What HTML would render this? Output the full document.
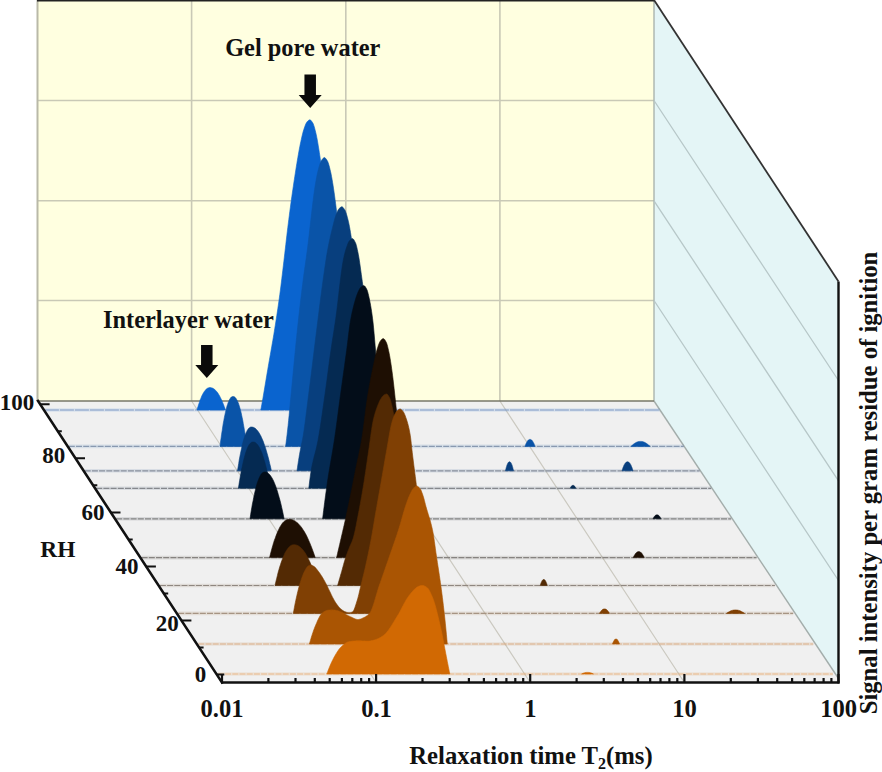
<!DOCTYPE html>
<html lang="en"><head><meta charset="utf-8"><title>NMR T2 relaxation waterfall</title>
<style>html,body{margin:0;padding:0;background:#fff}svg{display:block}text{font-family:"Liberation Serif","DejaVu Serif",serif;font-weight:bold;fill:#111}</style></head><body>
<svg width="882" height="772" viewBox="0 0 882 772">
<rect width="882" height="772" fill="#fff"/>
<rect x="37.5" y="0.0" width="616.5" height="401.0" fill="#ffffe0"/>
<polygon points="654.0,0.0 838.5,281.5 838.5,682.5 654.0,401.0" fill="#e4f5f6"/>
<polygon points="37.5,401.0 654.0,401.0 838.5,678.5 838.5,682.5 222.0,682.5" fill="#f0f0f0"/>
<path d="M191.6,0.0V401.0M345.8,0.0V401.0M499.9,0.0V401.0M37.5,100.5H654.0M37.5,200.8H654.0M37.5,300.5H654.0" stroke="#c9c9b6" stroke-width="1.6" fill="none"/>
<path d="M37.5,0.0V401.0" stroke="#b9b9a8" stroke-width="2" fill="none"/>
<path d="M654.0,0.0V401.0" stroke="#aab4ae" stroke-width="1.4" fill="none"/>
<path d="M654.0,100.5L838.5,380.5M654.0,200.8L838.5,480.8M654.0,300.5L838.5,580.5" stroke="#b7c7c8" stroke-width="1.3" fill="none"/>
<path d="M191.6,401.0L376.1,682.5M345.8,401.0L530.2,682.5M499.9,401.0L684.4,682.5" stroke="#cbc9c0" stroke-width="1.2" fill="none"/>
<path d="M654.0,401.0L838.5,678.5" stroke="#a3adab" stroke-width="1.4" fill="none"/>
<path d="M37.5,401.0H654.0" stroke="#77776a" stroke-width="1.6" fill="none"/>
<path d="M37.0,0.5H654.0" stroke="#222" stroke-width="1.8" fill="none"/>
<path d="M654.0,0.0L838.5,281.5" stroke="#333" stroke-width="1.8" fill="none"/>
<path d="M44.9,410H659.9" stroke="#0a64cf" stroke-opacity="0.10" stroke-width="3.6" fill="none"/>
<path d="M44.9,410H659.9" stroke="#7f9ac3" stroke-width="1.2" stroke-dasharray="14 1" fill="none"/>
<path d="M197,410 197.5,408.1 198.1,406.3 198.6,404.5 199.2,402.9 199.7,401.3 200.2,399.8 200.8,398.5 201.3,397.2 201.8,395.9 202.4,394.8 202.9,393.8 203.5,392.8 204,392 204.5,391.2 205.1,390.5 205.6,389.8 206.1,389.3 206.7,388.8 207.2,388.4 207.8,388.1 208.3,387.9 208.8,387.7 209.4,387.6 209.9,387.6 210.5,387.6 211.2,387.7 211.8,387.9 212.5,388.1 213.1,388.4 213.8,388.8 214.4,389.3 215.1,389.8 215.7,390.5 216.4,391.2 217,392 217.7,392.8 218.3,393.8 218.9,394.8 219.6,395.9 220.2,397.2 220.9,398.5 221.5,399.8 222.2,401.3 222.8,402.9 223.5,404.5 224.1,406.3 224.8,408.1 225.4,410ZM260.8,410 261.3,407.3 261.8,404.5 262.3,401.7 262.8,398.9 263.3,396 263.8,393 264.3,390.1 264.8,387.1 265.3,384.1 265.8,381.1 266.3,378.1 266.8,375.1 267.3,372.1 267.8,369.2 268.3,366.2 268.8,363.3 269.3,360.5 269.8,357.6 270.3,354.8 270.8,351.9 271.3,349.1 271.8,346.2 272.3,343.3 272.8,340.4 273.3,337.5 273.8,334.5 274.3,331.4 274.8,328.3 275.3,325.2 275.8,322 276.3,318.7 276.8,315.4 277.3,312.1 277.8,308.7 278.3,305.3 278.8,301.8 279.3,298.2 279.8,294.5 280.3,290.7 280.8,286.8 281.3,282.8 281.8,278.6 282.3,274.4 282.8,270.2 283.3,265.9 283.8,261.7 284.3,257.5 284.8,253.2 285.3,248.8 285.8,244.4 286.3,240.1 286.8,235.7 287.3,231.5 287.8,227.4 288.3,223.4 288.8,219.4 289.3,215.5 289.8,211.6 290.3,207.8 290.8,204 291.3,200.3 291.8,196.7 292.3,193.2 292.8,189.7 293.3,186.4 293.8,183 294.3,179.7 294.8,176.4 295.3,173.2 295.8,170 296.3,166.8 296.8,163.7 297.3,160.6 297.8,157.7 298.3,154.8 298.8,151.9 299.3,149.2 299.8,146.6 300.3,144.1 300.8,141.7 301.3,139.4 301.8,137.1 302.3,135 302.8,133 303.3,131.1 303.8,129.5 304.3,128 304.8,126.6 305.3,125.2 305.8,124 306.3,123 306.8,122.2 307.3,121.6 307.8,121.1 308.3,120.6 308.8,120.2 309.3,119.9 309.8,119.8 310.3,119.9 310.8,120.3 311.3,120.8 311.8,121.5 312.3,122.2 312.8,123 313.3,124 313.8,125.4 314.3,127 314.8,128.8 315.3,130.7 315.8,132.8 316.3,134.9 316.8,137.4 317.3,140 317.8,142.9 318.3,145.9 318.8,149 319.3,152.2 319.8,155.5 320.3,159 320.8,162.7 321.3,166.4 321.8,170.3 322.3,174.2 322.8,178.3 323.3,182.4 323.8,186.5 324.3,190.7 324.8,194.9 325.3,199.1 325.8,203.3 326.3,207.5 326.8,211.9 327.3,216.3 327.8,220.7 328.3,225.3 328.8,229.9 329.3,234.5 329.8,239.1 330.3,243.6 330.8,248.2 331.3,252.7 331.8,257.2 332.3,261.8 332.8,266.3 333.3,270.9 333.8,275.4 334.3,279.9 334.8,284.4 335.3,288.9 335.8,293.3 336.3,297.6 336.8,302 337.3,306.3 337.8,310.7 338.3,315 338.8,319.3 339.3,323.6 339.8,327.8 340.3,331.9 340.8,335.9 341.3,339.8 341.8,343.5 342.3,347.2 342.8,350.8 343.3,354.4 343.8,358 344.3,361.5 344.8,364.9 345.3,368.3 345.8,371.6 346.3,374.8 346.8,377.9 347.3,380.9 347.8,383.7 348.3,386.4 348.8,389 349.3,391.4 349.8,393.8 350.3,396.1 350.8,398.3 351.3,400.4 351.8,402.4 352.3,404.3 352.8,406.1 353.3,407.8 353.8,409.4 354,410Z" fill="#0a64cf" stroke="#0a64cf" stroke-width="0.6" stroke-linejoin="round"/>
<path d="M68.8,446.4H683.8" stroke="#0a54a8" stroke-opacity="0.10" stroke-width="3.6" fill="none"/>
<path d="M68.8,446.4H683.8" stroke="#8899b0" stroke-width="1.2" stroke-dasharray="6 1.2" fill="none"/>
<path d="M220,446.4 220.5,442.1 221.1,438 221.6,434.2 222.2,430.5 222.7,427 223.2,423.7 223.8,420.6 224.3,417.7 224.9,415 225.4,412.5 226,410.2 226.5,408.1 227,406.1 227.6,404.4 228.1,402.8 228.7,401.4 229.2,400.2 229.8,399.1 230.3,398.3 230.8,397.6 231.4,397 231.9,396.7 232.5,396.5 233,396.4 233.6,396.5 234.2,396.7 234.7,397 235.3,397.6 235.9,398.3 236.4,399.1 237,400.2 237.6,401.4 238.2,402.8 238.8,404.4 239.3,406.1 239.9,408.1 240.5,410.2 241.1,412.5 241.6,415 242.2,417.7 242.8,420.6 243.3,423.7 243.9,427 244.5,430.5 245.1,434.2 245.7,438 246.2,442.1 246.8,446.4ZM285.6,446.4 286.1,442.6 286.6,438.6 287.1,434.4 287.6,430 288.1,425.5 288.6,420.6 289.1,415.5 289.6,410.2 290.1,404.9 290.6,399.6 291.1,394.4 291.6,389.2 292.1,384 292.6,378.7 293.1,373.4 293.6,368.1 294.1,362.9 294.6,357.7 295.1,352.5 295.6,347.4 296.1,342.3 296.6,337.4 297.1,332.5 297.6,327.8 298.1,323.2 298.6,318.6 299.1,314.1 299.6,309.7 300.1,305.3 300.6,301 301.1,296.8 301.6,292.7 302.1,288.6 302.6,284.6 303.1,280.6 303.6,276.8 304.1,273.1 304.6,269.5 305.1,266 305.6,262.5 306.1,258.9 306.6,255.3 307.1,251.6 307.6,247.8 308.1,243.8 308.6,239.6 309.1,235.3 309.6,231 310.1,226.6 310.6,222.1 311.1,217.7 311.6,213.3 312.1,209 312.6,204.7 313.1,200.7 313.6,196.7 314.1,193 314.6,189.4 315.1,186.2 315.6,183.2 316.1,180.3 316.6,177.6 317.1,175.1 317.6,172.8 318.1,170.6 318.6,168.7 319.1,166.9 319.6,165.2 320.1,163.6 320.6,162.2 321.1,161.1 321.6,160.3 322.1,159.5 322.6,158.9 323.1,158.3 323.6,157.9 324.1,157.6 324.6,157.6 325.1,157.9 325.6,158.3 326.1,158.9 326.6,159.6 327.1,160.4 327.6,161.3 328.1,162.5 328.6,164 329.1,165.7 329.6,167.6 330.1,169.7 330.6,171.8 331.1,174.1 331.6,176.7 332.1,179.5 332.6,182.5 333.1,185.6 333.6,188.9 334.1,192.3 334.6,195.9 335.1,199.7 335.6,203.6 336.1,207.6 336.6,211.8 337.1,216.1 337.6,220.4 338.1,224.9 338.6,229.4 339.1,233.9 339.6,238.5 340.1,243.1 340.6,247.7 341.1,252.3 341.6,257 342.1,261.9 342.6,266.8 343.1,271.8 343.6,276.9 344.1,282 344.6,287.2 345.1,292.3 345.6,297.4 346.1,302.4 346.6,307.4 347.1,312.5 347.6,317.5 348.1,322.6 348.6,327.7 349.1,332.7 349.6,337.8 350.1,342.8 350.6,347.8 351.1,352.7 351.6,357.6 352.1,362.4 352.6,367.2 353.1,372.1 353.6,377 354.1,381.9 354.6,386.8 355.1,391.6 355.6,396.3 356.1,400.9 356.6,405.3 357.1,409.5 357.6,413.4 358.1,417.1 358.6,420.7 359.1,424.1 359.6,427.4 360.1,430.6 360.6,433.7 361.1,436.6 361.6,439.4 362.1,442 362.6,444.5 363,446.4ZM525,446.4 525.2,445.8 525.4,445.2 525.6,444.7 525.8,444.2 526,443.7 526.2,443.2 526.5,442.8 526.7,442.4 526.9,442 527.1,441.7 527.3,441.3 527.5,441 527.7,440.8 527.9,440.5 528.1,440.3 528.3,440.1 528.5,439.9 528.8,439.8 529,439.7 529.2,439.6 529.4,439.5 529.6,439.4 529.8,439.4 530,439.4 530.2,439.4 530.4,439.4 530.6,439.5 530.8,439.6 531,439.7 531.2,439.8 531.5,439.9 531.7,440.1 531.9,440.3 532.1,440.5 532.3,440.8 532.5,441 532.7,441.3 532.9,441.7 533.1,442 533.3,442.4 533.5,442.8 533.8,443.2 534,443.7 534.2,444.2 534.4,444.7 534.6,445.2 534.8,445.8 535,446.4ZM631,446.4 631.4,446 631.8,445.6 632.2,445.2 632.6,444.9 633,444.5 633.4,444.2 633.8,443.9 634.2,443.6 634.6,443.4 635,443.1 635.4,442.9 635.8,442.6 636.1,442.5 636.5,442.3 636.9,442.1 637.3,442 637.7,441.8 638.1,441.7 638.5,441.6 638.9,441.5 639.3,441.5 639.7,441.4 640.1,441.4 640.5,441.4 640.9,441.4 641.3,441.4 641.7,441.5 642.1,441.5 642.5,441.6 642.9,441.7 643.3,441.8 643.7,442 644.1,442.1 644.5,442.3 644.9,442.5 645.2,442.6 645.6,442.9 646,443.1 646.4,443.4 646.8,443.6 647.2,443.9 647.6,444.2 648,444.5 648.4,444.9 648.8,445.2 649.2,445.6 649.6,446 650,446.4Z" fill="#0a54a8" stroke="#0a54a8" stroke-width="0.6" stroke-linejoin="round"/>
<path d="M84.7,470.8H699.7" stroke="#083f7e" stroke-opacity="0.10" stroke-width="3.6" fill="none"/>
<path d="M84.7,470.8H699.7" stroke="#868e9b" stroke-width="1.2" stroke-dasharray="6 1.2" fill="none"/>
<path d="M237.5,470.8 238.1,467.1 238.7,463.5 239.2,460.1 239.8,456.9 240.4,453.8 241,450.9 241.6,448.2 242.1,445.7 242.7,443.3 243.3,441.1 243.9,439.1 244.5,437.2 245,435.5 245.6,434 246.2,432.6 246.8,431.4 247.3,430.3 247.9,429.4 248.5,428.6 249.1,428 249.7,427.6 250.2,427.2 250.8,427.1 251.4,427 252.2,427.1 253.1,427.2 253.9,427.6 254.7,428 255.6,428.6 256.4,429.4 257.2,430.3 258.1,431.4 258.9,432.6 259.7,434 260.6,435.5 261.4,437.2 262.2,439.1 263.1,441.1 263.9,443.3 264.7,445.7 265.6,448.2 266.4,450.9 267.2,453.8 268.1,456.9 268.9,460.1 269.7,463.5 270.6,467.1 271.4,470.8ZM297,470.8 297.5,467.3 298,463.9 298.5,460.7 299,457.6 299.5,454.6 300,451.8 300.5,449.1 301,446.5 301.5,444.3 302,442.2 302.5,439.8 303,437.1 303.5,434 304,430.7 304.5,427.2 305,423.5 305.5,419.7 306,415.7 306.5,411.7 307,407.7 307.5,403.7 308,399.7 308.5,395.8 309,391.9 309.5,388 310,384.1 310.5,380.1 311,376.1 311.5,372.1 312,368 312.5,363.9 313,359.9 313.5,355.8 314,351.7 314.5,347.6 315,343.5 315.5,339.5 316,335.5 316.5,331.5 317,327.5 317.5,323.5 318,319.5 318.5,315.5 319,311.5 319.5,307.5 320,303.6 320.5,299.6 321,295.7 321.5,291.9 322,288.1 322.5,284.4 323,280.8 323.5,277.2 324,273.7 324.5,270.2 325,266.7 325.5,263.3 326,260 326.5,256.8 327,253.8 327.5,250.9 328,248.2 328.5,245.6 329,243.2 329.5,240.8 330,238.5 330.5,236.2 331,234.1 331.5,232 332,229.9 332.5,227.9 333,225.8 333.5,223.8 334,221.8 334.5,219.9 335,218.1 335.5,216.5 336,215.1 336.5,213.7 337,212.4 337.5,211.2 338,210.2 338.5,209.4 339,208.8 339.5,208.2 340,207.8 340.5,207.3 341,207 341.5,206.8 342,206.8 342.5,207 343,207.4 343.5,208 344,208.7 344.5,209.4 345,210.2 345.5,211.3 346,212.7 346.5,214.3 347,216 347.5,217.9 348,219.8 348.5,221.9 349,224.2 349.5,226.8 350,229.5 350.5,232.5 351,235.6 351.5,239.2 352,243.1 352.5,247.3 353,251.8 353.5,256.5 354,261.5 354.5,266.5 355,271.7 355.5,277 356,282.3 356.5,287.5 357,292.7 357.5,297.8 358,302.8 358.5,307.7 359,312.6 359.5,317.6 360,322.6 360.5,327.7 361,332.7 361.5,337.7 362,342.8 362.5,347.8 363,352.8 363.5,357.8 364,362.9 364.5,368 365,373.1 365.5,378.3 366,383.4 366.5,388.5 367,393.5 367.5,398.5 368,403.3 368.5,408.1 369,412.8 369.5,417.5 370,422.2 370.5,426.9 371,431.6 371.5,436.2 372,440.6 372.5,444.9 373,448.8 373.5,452.5 374,455.8 374.5,458.8 375,461.6 375.5,464.3 376,466.7 376.5,468.9 377,470.8ZM505.5,470.8 505.7,470 505.8,469.3 506,468.6 506.2,467.9 506.3,467.3 506.5,466.7 506.7,466.2 506.8,465.6 507,465.2 507.2,464.7 507.3,464.3 507.5,463.9 507.7,463.5 507.8,463.2 508,462.9 508.2,462.7 508.3,462.5 508.5,462.3 508.7,462.1 508.8,462 509,461.9 509.2,461.8 509.3,461.8 509.5,461.8 509.7,461.8 509.8,461.8 510,461.9 510.2,462 510.3,462.1 510.5,462.3 510.7,462.5 510.8,462.7 511,462.9 511.2,463.2 511.3,463.5 511.5,463.9 511.7,464.3 511.8,464.7 512,465.2 512.2,465.6 512.3,466.2 512.5,466.7 512.7,467.3 512.8,467.9 513,468.6 513.2,469.3 513.3,470 513.5,470.8ZM622,470.8 622.2,470 622.5,469.3 622.7,468.6 622.9,467.9 623.1,467.3 623.4,466.7 623.6,466.2 623.8,465.6 624.1,465.2 624.3,464.7 624.5,464.3 624.8,463.9 625,463.5 625.2,463.2 625.4,462.9 625.7,462.7 625.9,462.5 626.1,462.3 626.4,462.1 626.6,462 626.8,461.9 627,461.8 627.3,461.8 627.5,461.8 627.7,461.8 628,461.8 628.2,461.9 628.4,462 628.6,462.1 628.9,462.3 629.1,462.5 629.3,462.7 629.6,462.9 629.8,463.2 630,463.5 630.2,463.9 630.5,464.3 630.7,464.7 630.9,465.2 631.2,465.6 631.4,466.2 631.6,466.7 631.9,467.3 632.1,467.9 632.3,468.6 632.5,469.3 632.8,470 633,470.8Z" fill="#083f7e" stroke="#083f7e" stroke-width="0.6" stroke-linejoin="round"/>
<path d="M96.2,488.3H711.2" stroke="#052a52" stroke-opacity="0.10" stroke-width="3.6" fill="none"/>
<path d="M96.2,488.3H711.2" stroke="#85888d" stroke-width="1.2" stroke-dasharray="6 1.2" fill="none"/>
<path d="M238.4,488.3 239,484.3 239.6,480.6 240.2,477 240.8,473.6 241.4,470.3 242.1,467.3 242.7,464.4 243.3,461.8 243.9,459.3 244.5,456.9 245.1,454.8 245.7,452.8 246.3,451 246.9,449.4 247.5,447.9 248.1,446.6 248.7,445.5 249.3,444.5 250,443.7 250.6,443.1 251.2,442.6 251.8,442.3 252.4,442.1 253,442 253.7,442.1 254.5,442.3 255.2,442.6 255.9,443.1 256.6,443.7 257.4,444.5 258.1,445.5 258.8,446.6 259.6,447.9 260.3,449.4 261,451 261.8,452.8 262.5,454.8 263.2,456.9 263.9,459.3 264.7,461.8 265.4,464.4 266.1,467.3 266.9,470.3 267.6,473.6 268.3,477 269,480.6 269.8,484.3 270.5,488.3ZM308.8,488.3 309.3,484.1 309.8,480 310.3,476.2 310.8,472.7 311.3,469.8 311.8,467.1 312.3,464.6 312.8,462.4 313.3,460.2 313.8,458.2 314.3,456.2 314.8,454.3 315.3,452.4 315.8,450.4 316.3,448.4 316.8,446.3 317.3,444 317.8,441.6 318.3,438.9 318.8,436.1 319.3,433.2 319.8,430.1 320.3,426.9 320.8,423.6 321.3,420.3 321.8,416.8 322.3,413.4 322.8,409.8 323.3,406.3 323.8,402.8 324.3,399.2 324.8,395.7 325.3,392.2 325.8,388.6 326.3,384.9 326.8,381.2 327.3,377.4 327.8,373.6 328.3,369.8 328.8,366 329.3,362.3 329.8,358.6 330.3,355 330.8,351.4 331.3,347.9 331.8,344.6 332.3,341.3 332.8,338.1 333.3,334.9 333.8,331.7 334.3,328.4 334.8,325.1 335.3,321.8 335.8,318.3 336.3,314.6 336.8,310.8 337.3,306.7 337.8,302.5 338.3,298.2 338.8,293.9 339.3,289.5 339.8,285.2 340.3,281 340.8,277 341.3,273.1 341.8,269.4 342.3,266 342.8,262.9 343.3,260.2 343.8,257.7 344.3,255.5 344.8,253.4 345.3,251.6 345.8,249.8 346.3,248.3 346.8,246.8 347.3,245.4 347.8,244 348.3,242.8 348.8,241.8 349.3,241.1 349.8,240.5 350.3,239.9 350.8,239.4 351.3,239 351.8,238.7 352.3,238.6 352.8,238.7 353.3,239.1 353.8,239.7 354.3,240.5 354.8,241.5 355.3,242.4 355.8,243.6 356.3,245.2 356.8,247.2 357.3,249.4 357.8,251.8 358.3,254.3 358.8,257 359.3,260.1 359.8,263.5 360.3,267 360.8,270.7 361.3,274.3 361.8,277.9 362.3,281.5 362.8,285 363.3,288.6 363.8,292.3 364.3,295.9 364.8,299.6 365.3,303.4 365.8,307.2 366.3,311 366.8,315 367.3,319 367.8,323.1 368.3,327.3 368.8,331.6 369.3,336 369.8,340.6 370.3,345.5 370.8,350.6 371.3,355.7 371.8,360.9 372.3,366.1 372.8,371.3 373.3,376.4 373.8,381.4 374.3,386.2 374.8,391 375.3,395.7 375.8,400.5 376.3,405.2 376.8,409.9 377.3,414.5 377.8,419.1 378.3,423.6 378.8,428.1 379.3,432.4 379.8,436.6 380.3,440.8 380.8,445 381.3,449.3 381.8,453.5 382.3,457.7 382.8,461.7 383.3,465.5 383.8,469.1 384.3,472.3 384.8,475.2 385.3,477.8 385.8,480.2 386.3,482.4 386.8,484.4 387.3,486.2 387.8,487.7 388,488.3ZM570.2,488.3 570.3,488 570.4,487.8 570.5,487.6 570.7,487.3 570.8,487.1 570.9,486.9 571,486.8 571.1,486.6 571.2,486.4 571.4,486.3 571.5,486.1 571.6,486 571.7,485.9 571.8,485.8 572,485.7 572.1,485.6 572.2,485.5 572.3,485.5 572.4,485.4 572.5,485.4 572.6,485.3 572.8,485.3 572.9,485.3 573,485.3 573.1,485.3 573.2,485.3 573.4,485.3 573.5,485.4 573.6,485.4 573.7,485.5 573.8,485.5 573.9,485.6 574,485.7 574.2,485.8 574.3,485.9 574.4,486 574.5,486.1 574.6,486.3 574.8,486.4 574.9,486.6 575,486.8 575.1,486.9 575.2,487.1 575.3,487.3 575.5,487.6 575.6,487.8 575.7,488 575.8,488.3Z" fill="#052a52" stroke="#052a52" stroke-width="0.6" stroke-linejoin="round"/>
<path d="M116.2,518.8H731.2" stroke="#030d19" stroke-opacity="0.10" stroke-width="3.6" fill="none"/>
<path d="M116.2,518.8H731.2" stroke="#848484" stroke-width="1.2" stroke-dasharray="6 1.2" fill="none"/>
<path d="M250,518.8 250.6,514.8 251.2,511 251.8,507.4 252.4,503.9 253.1,500.7 253.7,497.6 254.3,494.7 254.9,492 255.5,489.4 256.1,487.1 256.7,484.9 257.3,482.9 258,481.1 258.6,479.4 259.2,478 259.8,476.7 260.4,475.5 261,474.5 261.6,473.7 262.2,473.1 262.9,472.6 263.5,472.3 264.1,472.1 264.7,472 265.5,472.1 266.3,472.3 267.1,472.6 267.9,473.1 268.7,473.7 269.6,474.5 270.4,475.5 271.2,476.7 272,478 272.8,479.4 273.6,481.1 274.4,482.9 275.2,484.9 276,487.1 276.8,489.4 277.6,492 278.4,494.7 279.2,497.6 280.1,500.7 280.9,503.9 281.7,507.4 282.5,511 283.3,514.8 284.1,518.8ZM322.6,518.8 323.1,514.7 323.6,510.7 324.1,506.7 324.6,502.8 325.1,499 325.6,495.2 326.1,491.5 326.6,487.9 327.1,484.4 327.6,481 328.1,477.7 328.6,474.5 329.1,471.5 329.6,468.5 330.1,465.6 330.6,462.7 331.1,459.8 331.6,457 332.1,454.1 332.6,451.2 333.1,448.2 333.6,445.1 334.1,442 334.6,438.7 335.1,435.2 335.6,431.7 336.1,428.1 336.6,424.4 337.1,420.7 337.6,416.9 338.1,413.1 338.6,409.3 339.1,405.5 339.6,401.7 340.1,397.9 340.6,394.3 341.1,390.6 341.6,387 342.1,383.4 342.6,379.8 343.1,376.2 343.6,372.6 344.1,369 344.6,365.4 345.1,361.8 345.6,358.1 346.1,354.5 346.6,350.7 347.1,346.9 347.6,342.9 348.1,338.7 348.6,334.5 349.1,330.5 349.6,326.7 350.1,323.2 350.6,320.2 351.1,317.5 351.6,315 352.1,312.6 352.6,310.4 353.1,308.3 353.6,306.3 354.1,304.3 354.6,302.5 355.1,300.8 355.6,299.1 356.1,297.4 356.6,295.9 357.1,294.5 357.6,293.3 358.1,292.1 358.6,291 359.1,290 359.6,289 360.1,288.2 360.6,287.6 361.1,287.1 361.6,286.7 362.1,286.3 362.6,286 363.1,285.7 363.6,285.6 364.1,285.7 364.6,286 365.1,286.5 365.6,287.3 366.1,288.1 366.6,289.1 367.1,290.1 367.6,291.6 368.1,293.4 368.6,295.5 369.1,297.7 369.6,300.1 370.1,302.6 370.6,305.3 371.1,308.3 371.6,311.5 372.1,315.1 372.6,318.8 373.1,323 373.6,327.9 374.1,333.4 374.6,339.2 375.1,345.2 375.6,351.1 376.1,356.7 376.6,361.8 377.1,366.5 377.6,371.1 378.1,375.5 378.6,379.9 379.1,384.1 379.6,388.4 380.1,392.7 380.6,397.2 381.1,401.7 381.6,406.4 382.1,411.2 382.6,416 383.1,420.9 383.6,425.7 384.1,430.6 384.6,435.5 385.1,440.3 385.6,445.1 386.1,449.7 386.6,454.4 387.1,459.2 387.6,464 388.1,468.8 388.6,473.5 389.1,478.1 389.6,482.5 390.1,486.8 390.6,490.8 391.1,494.5 391.6,498.1 392.1,501.6 392.6,504.9 393.1,508.1 393.6,511.1 394.1,514 394.6,516.7 395,518.8ZM653,518.8 653.2,518.5 653.3,518.1 653.5,517.8 653.7,517.5 653.8,517.2 654,517 654.2,516.7 654.3,516.5 654.5,516.3 654.7,516.1 654.8,515.9 655,515.7 655.2,515.6 655.3,515.4 655.5,515.3 655.7,515.2 655.8,515.1 656,515 656.2,514.9 656.3,514.9 656.5,514.9 656.7,514.8 656.8,514.8 657,514.8 657.2,514.8 657.3,514.8 657.5,514.9 657.7,514.9 657.8,514.9 658,515 658.2,515.1 658.3,515.2 658.5,515.3 658.7,515.4 658.8,515.6 659,515.7 659.2,515.9 659.3,516.1 659.5,516.3 659.7,516.5 659.8,516.7 660,517 660.2,517.2 660.3,517.5 660.5,517.8 660.7,518.1 660.8,518.5 661,518.8Z" fill="#030d19" stroke="#030d19" stroke-width="0.6" stroke-linejoin="round"/>
<path d="M141.6,557.6H756.6" stroke="#1e0f03" stroke-opacity="0.10" stroke-width="3.6" fill="none"/>
<path d="M141.6,557.6H756.6" stroke="#868380" stroke-width="1.2" stroke-dasharray="6 1.2" fill="none"/>
<path d="M269.6,557.6 270.4,554.3 271.2,551.2 272,548.2 272.8,545.4 273.6,542.7 274.4,540.2 275.3,537.9 276.1,535.6 276.9,533.6 277.7,531.6 278.5,529.9 279.3,528.2 280.1,526.7 280.9,525.4 281.7,524.2 282.5,523.1 283.3,522.2 284.1,521.4 285,520.7 285.8,520.2 286.6,519.8 287.4,519.5 288.2,519.3 289,519.3 290.1,519.3 291.2,519.5 292.3,519.8 293.4,520.2 294.5,520.7 295.6,521.4 296.6,522.2 297.7,523.1 298.8,524.2 299.9,525.4 301,526.7 302.1,528.2 303.2,529.9 304.3,531.6 305.4,533.6 306.5,535.6 307.6,537.9 308.6,540.2 309.7,542.7 310.8,545.4 311.9,548.2 313,551.2 314.1,554.3 315.2,557.6ZM336.6,557.6 337.1,555.4 337.6,553.3 338.1,551.1 338.6,549 339.1,546.8 339.6,544.7 340.1,542.5 340.6,540.3 341.1,538.2 341.6,536 342.1,533.9 342.6,531.7 343.1,529.6 343.6,527.4 344.1,525.3 344.6,523.1 345.1,520.9 345.6,518.6 346.1,516.3 346.6,514 347.1,511.6 347.6,509.2 348.1,506.8 348.6,504.4 349.1,502 349.6,499.5 350.1,497.1 350.6,494.7 351.1,492.2 351.6,489.7 352.1,487.2 352.6,484.7 353.1,482.2 353.6,479.6 354.1,477.1 354.6,474.6 355.1,472.1 355.6,469.6 356.1,467.1 356.6,464.7 357.1,462.3 357.6,460 358.1,457.7 358.6,455.4 359.1,453 359.6,450.6 360.1,448.1 360.6,445.5 361.1,442.8 361.6,440 362.1,436.9 362.6,433.6 363.1,430 363.6,426.3 364.1,422.4 364.6,418.5 365.1,414.5 365.6,410.6 366.1,406.7 366.6,403 367.1,399.5 367.6,396.2 368.1,393.2 368.6,390.3 369.1,387.4 369.6,384.6 370.1,381.9 370.6,379.3 371.1,376.7 371.6,374.2 372.1,371.7 372.6,369.3 373.1,366.9 373.6,364.5 374.1,362.2 374.6,359.9 375.1,357.6 375.6,355.3 376.1,353.2 376.6,351.1 377.1,349.3 377.6,347.7 378.1,346.2 378.6,344.7 379.1,343.4 379.6,342.3 380.1,341.4 380.6,340.7 381.1,340.1 381.6,339.6 382.1,339.1 382.6,338.8 383.1,338.6 383.6,338.7 384.1,339 384.6,339.5 385.1,340.3 385.6,341.1 386.1,342.1 386.6,343.1 387.1,344.6 387.6,346.4 388.1,348.5 388.6,350.7 389.1,353.1 389.6,355.6 390.1,358.4 390.6,361.5 391.1,364.8 391.6,368.3 392.1,371.9 392.6,375.7 393.1,379.7 393.6,384 394.1,388.4 394.6,393 395.1,397.7 395.6,402.4 396.1,407.2 396.6,412 397.1,416.9 397.6,422 398.1,427.2 398.6,432.5 399.1,437.7 399.6,443 400.1,448.3 400.6,453.5 401.1,458.6 401.6,463.8 402.1,469 402.6,474.2 403.1,479.4 403.6,484.6 404.1,489.7 404.6,494.6 405.1,499.4 405.6,504.1 406.1,508.5 406.6,512.8 407.1,517.1 407.6,521.4 408.1,525.6 408.6,529.6 409.1,533.4 409.6,537.1 410.1,540.4 410.6,543.4 411.1,546.1 411.6,548.6 412.1,550.8 412.6,552.9 413.1,554.8 413.6,556.5 414,557.6ZM633.2,557.6 633.5,557.1 633.7,556.6 633.9,556.1 634.2,555.7 634.4,555.3 634.6,554.9 634.9,554.5 635.1,554.2 635.3,553.8 635.5,553.5 635.8,553.3 636,553 636.2,552.8 636.5,552.6 636.7,552.4 636.9,552.2 637.1,552.1 637.4,551.9 637.6,551.8 637.8,551.7 638.1,551.7 638.3,551.6 638.5,551.6 638.8,551.6 639,551.6 639.2,551.6 639.4,551.7 639.7,551.7 639.9,551.8 640.1,551.9 640.4,552.1 640.6,552.2 640.8,552.4 641,552.6 641.3,552.8 641.5,553 641.7,553.3 642,553.5 642.2,553.8 642.4,554.2 642.6,554.5 642.9,554.9 643.1,555.3 643.3,555.7 643.6,556.1 643.8,556.6 644,557.1 644.2,557.6Z" fill="#1e0f03" stroke="#1e0f03" stroke-width="0.6" stroke-linejoin="round"/>
<path d="M159.9,585.5H774.9" stroke="#532a04" stroke-opacity="0.10" stroke-width="3.6" fill="none"/>
<path d="M159.9,585.5H774.9" stroke="#8f8780" stroke-width="1.2" stroke-dasharray="6 1.2" fill="none"/>
<path d="M275,585.5 275.8,582 276.6,578.7 277.4,575.5 278.1,572.5 278.9,569.7 279.7,567 280.5,564.5 281.3,562.1 282.1,559.9 282.9,557.9 283.7,556 284.4,554.2 285.2,552.6 286,551.2 286.8,549.9 287.6,548.8 288.4,547.8 289.2,546.9 290,546.2 290.8,545.6 291.5,545.2 292.3,544.9 293.1,544.8 293.9,544.7 294.9,544.8 295.9,544.9 296.9,545.2 297.9,545.6 298.9,546.2 299.9,546.9 300.9,547.8 301.9,548.8 302.9,549.9 303.9,551.2 304.9,552.6 305.9,554.2 306.9,556 307.9,557.9 308.9,559.9 309.9,562.1 310.9,564.5 311.9,567 312.9,569.7 313.9,572.5 314.9,575.5 315.9,578.7 316.9,582 317.9,585.5ZM337.6,585.5 338.1,583.8 338.6,582.1 339.1,580.3 339.6,578.6 340.1,576.9 340.6,575.1 341.1,573.4 341.6,571.7 342.1,569.9 342.6,568.1 343.1,566.2 343.6,564.4 344.1,562.6 344.6,560.9 345.1,559.2 345.6,557.7 346.1,556.2 346.6,554.8 347.1,553.4 347.6,552.1 348.1,550.8 348.6,549.5 349.1,548.2 349.6,547 350.1,545.8 350.6,544.7 351.1,543.6 351.6,542.5 352.1,541.3 352.6,540 353.1,538.5 353.6,536.8 354.1,534.9 354.6,532.8 355.1,530.6 355.6,528.2 356.1,525.7 356.6,523.1 357.1,520.5 357.6,517.9 358.1,515.3 358.6,512.7 359.1,510.1 359.6,507.4 360.1,504.7 360.6,502 361.1,499.2 361.6,496.4 362.1,493.5 362.6,490.6 363.1,487.6 363.6,484.6 364.1,481.5 364.6,478.3 365.1,475 365.6,471.7 366.1,468.3 366.6,464.8 367.1,461.4 367.6,457.9 368.1,454.5 368.6,451.1 369.1,447.7 369.6,444.1 370.1,440.4 370.6,436.7 371.1,433.1 371.6,429.7 372.1,426.4 372.6,423.5 373.1,420.9 373.6,418.7 374.1,416.7 374.6,414.9 375.1,413.1 375.6,411.5 376.1,410 376.6,408.6 377.1,407.2 377.6,405.9 378.1,404.6 378.6,403.4 379.1,402.2 379.6,401.1 380.1,400.1 380.6,399.2 381.1,398.4 381.6,397.6 382.1,396.9 382.6,396.2 383.1,395.7 383.6,395.3 384.1,395 384.6,394.6 385.1,394.4 385.6,394.2 386.1,394 386.6,394 387.1,394.2 387.6,394.6 388.1,395.3 388.6,396 389.1,396.9 389.6,397.8 390.1,399 390.6,400.5 391.1,402.4 391.6,404.4 392.1,406.6 392.6,408.9 393.1,411.4 393.6,414.3 394.1,417.3 394.6,420.6 395.1,423.8 395.6,427 396.1,430.2 396.6,433.3 397.1,436.4 397.6,439.6 398.1,442.8 398.6,446 399.1,449.3 399.6,452.7 400.1,456.1 400.6,459.7 401.1,463.4 401.6,467.3 402.1,471.3 402.6,475.7 403.1,480.4 403.6,485.4 404.1,490.6 404.6,495.9 405.1,501.2 405.6,506.5 406.1,511.7 406.6,516.7 407.1,521.4 407.6,526.1 408.1,530.8 408.6,535.4 409.1,540 409.6,544.5 410.1,548.9 410.6,553.1 411.1,557 411.6,560.7 412.1,564.2 412.6,567.4 413.1,570.5 413.6,573.5 414.1,576.3 414.6,579 415.1,581.5 415.6,583.8 416,585.5ZM540.2,585.5 540.4,585 540.5,584.5 540.7,584 540.8,583.6 541,583.2 541.1,582.8 541.3,582.4 541.4,582.1 541.6,581.7 541.7,581.4 541.9,581.2 542,580.9 542.1,580.7 542.3,580.5 542.4,580.3 542.6,580.1 542.7,580 542.9,579.8 543,579.7 543.2,579.6 543.3,579.6 543.5,579.5 543.6,579.5 543.8,579.5 543.9,579.5 544,579.5 544.2,579.6 544.3,579.6 544.5,579.7 544.6,579.8 544.8,580 544.9,580.1 545.1,580.3 545.2,580.5 545.4,580.7 545.5,580.9 545.6,581.2 545.8,581.4 545.9,581.7 546.1,582.1 546.2,582.4 546.4,582.8 546.5,583.2 546.7,583.6 546.8,584 547,584.5 547.1,585 547.2,585.5Z" fill="#532a04" stroke="#532a04" stroke-width="0.6" stroke-linejoin="round"/>
<path d="M178.2,613.4H793.2" stroke="#804004" stroke-opacity="0.10" stroke-width="3.6" fill="none"/>
<path d="M178.2,613.4H793.2" stroke="#a69483" stroke-width="1.2" stroke-dasharray="6 1.2" fill="none"/>
<path d="M293.3,613.4 293.8,610.6 294.3,607.9 294.8,605.2 295.3,602.7 295.8,600.3 296.3,598 296.8,595.8 297.3,593.6 297.8,591.5 298.3,589.5 298.8,587.6 299.3,585.8 299.8,584 300.3,582.5 300.8,580.9 301.3,579.4 301.8,578 302.3,576.6 302.8,575.3 303.3,574 303.8,572.8 304.3,571.8 304.8,570.8 305.3,569.9 305.8,569 306.3,568.1 306.8,567.4 307.3,566.7 307.8,566.2 308.3,565.9 308.8,565.6 309.3,565.4 309.8,565.2 310.3,565 310.8,565 311.3,565.1 311.8,565.2 312.3,565.4 312.8,565.7 313.3,566 313.8,566.3 314.3,566.6 314.8,567 315.3,567.5 315.8,568.1 316.3,568.7 316.8,569.3 317.3,570 317.8,570.6 318.3,571.2 318.8,571.9 319.3,572.6 319.8,573.3 320.3,574 320.8,574.8 321.3,575.6 321.8,576.3 322.3,577.1 322.8,578 323.3,578.8 323.8,579.7 324.3,580.5 324.8,581.4 325.3,582.4 325.8,583.3 326.3,584.3 326.8,585.3 327.3,586.3 327.8,587.3 328.3,588.4 328.8,589.4 329.3,590.4 329.8,591.5 330.3,592.5 330.8,593.6 331.3,594.7 331.8,595.7 332.3,596.8 332.8,597.7 333.3,598.6 333.8,599.5 334.3,600.4 334.8,601.3 335.3,602.1 335.8,602.9 336.3,603.6 336.8,604.3 337.3,605 337.8,605.6 338.3,606.3 338.8,606.9 339.3,607.4 339.8,608 340.3,608.5 340.8,608.9 341.3,609.3 341.8,609.7 342.3,610.1 342.8,610.5 343.3,610.8 343.8,611.1 344.3,611.4 344.8,611.6 345.3,611.8 345.8,612 346.3,612.2 346.8,612.4 347.3,612.5 347.8,612.7 348.3,612.7 348.8,612.8 349.3,612.8 349.8,612.7 350.3,612.7 350.8,612.5 351.3,612.4 351.8,612.2 352.3,612 352.8,611.7 353.3,611.1 353.8,610.2 354.3,609.1 354.8,607.8 355.3,606.3 355.8,604.8 356.3,603.2 356.8,601.6 357.3,600.1 357.8,598.3 358.3,596.4 358.8,594.4 359.3,592.3 359.8,590.1 360.3,588 360.8,585.9 361.3,583.9 361.8,581.9 362.3,579.8 362.8,577.8 363.3,575.8 363.8,573.7 364.3,571.6 364.8,569.5 365.3,567.3 365.8,565.1 366.3,562.8 366.8,560.5 367.3,558.2 367.8,555.9 368.3,553.5 368.8,551.1 369.3,548.7 369.8,546.2 370.3,543.6 370.8,541.1 371.3,538.4 371.8,535.6 372.3,532.8 372.8,529.8 373.3,526.9 373.8,523.9 374.3,520.9 374.8,517.9 375.3,514.9 375.8,512.1 376.3,509.2 376.8,506.4 377.3,503.5 377.8,500.7 378.3,497.9 378.8,495.1 379.3,492.3 379.8,489.5 380.3,486.6 380.8,483.8 381.3,481 381.8,478.1 382.3,475.2 382.8,472.3 383.3,469.4 383.8,466.5 384.3,463.6 384.8,460.7 385.3,457.8 385.8,455 386.3,452.2 386.8,449.4 387.3,446.5 387.8,443.6 388.3,440.7 388.8,437.7 389.3,434.8 389.8,432 390.3,429.4 390.8,427 391.3,424.7 391.8,422.8 392.3,421 392.8,419.4 393.3,417.9 393.8,416.6 394.3,415.3 394.8,414.3 395.3,413.4 395.8,412.5 396.3,411.8 396.8,411.1 397.3,410.6 397.8,410.2 398.3,409.8 398.8,409.4 399.3,409.2 399.8,409 400.3,409 400.8,409.2 401.3,409.6 401.8,410 402.3,410.6 402.8,411.2 403.3,411.8 403.8,412.6 404.3,413.6 404.8,414.7 405.3,416 405.8,417.4 406.3,418.8 406.8,420.3 407.3,421.9 407.8,423.7 408.3,425.6 408.8,427.7 409.3,430.1 409.8,432.7 410.3,435.5 410.8,439.2 411.3,443.7 411.8,448.4 412.3,452.8 412.8,456.9 413.3,461 413.8,465 414.3,468.9 414.8,472.8 415.3,476.5 415.8,480.5 416.3,484.6 416.8,488.9 417.3,493.3 417.8,497.8 418.3,502.4 418.8,507.1 419.3,511.8 419.8,516.5 420.3,521.3 420.8,526.2 421.3,531.2 421.8,536.2 422.3,541.4 422.8,546.5 423.3,551.6 423.8,556.7 424.3,561.6 424.8,566.5 425.3,571.2 425.8,575.9 426.3,580.6 426.8,585.2 427.3,589.7 427.8,594.2 428.3,598.7 428.8,603.1 429.3,607.4 429.8,611.7 430,613.4ZM599.5,613.4 599.7,613 599.9,612.6 600.1,612.3 600.3,612 600.5,611.7 600.8,611.4 601,611.1 601.2,610.8 601.4,610.6 601.6,610.4 601.8,610.1 602,609.9 602.2,609.8 602.4,609.6 602.6,609.5 602.8,609.3 603,609.2 603.2,609.1 603.5,609.1 603.7,609 603.9,609 604.1,608.9 604.3,608.9 604.5,608.9 604.7,608.9 604.9,608.9 605.1,609 605.3,609 605.5,609.1 605.8,609.1 606,609.2 606.2,609.3 606.4,609.5 606.6,609.6 606.8,609.8 607,609.9 607.2,610.1 607.4,610.4 607.6,610.6 607.8,610.8 608,611.1 608.2,611.4 608.5,611.7 608.7,612 608.9,612.3 609.1,612.6 609.3,613 609.5,613.4ZM726.5,613.4 726.9,613.1 727.2,612.8 727.6,612.6 728,612.3 728.4,612.1 728.8,611.9 729.1,611.7 729.5,611.5 729.9,611.3 730.2,611.1 730.6,610.9 731,610.8 731.4,610.6 731.8,610.5 732.1,610.4 732.5,610.3 732.9,610.2 733.2,610.1 733.6,610.1 734,610 734.4,610 734.8,609.9 735.1,609.9 735.5,609.9 735.9,609.9 736.2,609.9 736.6,610 737,610 737.4,610.1 737.8,610.1 738.1,610.2 738.5,610.3 738.9,610.4 739.2,610.5 739.6,610.6 740,610.8 740.4,610.9 740.8,611.1 741.1,611.3 741.5,611.5 741.9,611.7 742.2,611.9 742.6,612.1 743,612.3 743.4,612.6 743.8,612.8 744.1,613.1 744.5,613.4Z" fill="#804004" stroke="#804004" stroke-width="0.6" stroke-linejoin="round"/>
<path d="M198.3,644H813.3" stroke="#aa5503" stroke-opacity="0.10" stroke-width="3.6" fill="none"/>
<path d="M198.3,644H813.3" stroke="#dcae88" stroke-width="1.2" stroke-dasharray="6 1.2" fill="none"/>
<path d="M309.4,644 309.9,642.2 310.4,640.5 310.9,638.8 311.4,637.1 311.9,635.5 312.4,634 312.9,632.5 313.4,631 313.9,629.6 314.4,628.3 314.9,627 315.4,625.8 315.9,624.6 316.4,623.5 316.9,622.3 317.4,621.1 317.9,620 318.4,618.9 318.9,617.9 319.4,617 319.9,616.1 320.4,615.3 320.9,614.5 321.4,613.9 321.9,613.4 322.4,613 322.9,612.6 323.4,612.2 323.9,611.8 324.4,611.5 324.9,611.2 325.4,611 325.9,610.7 326.4,610.6 326.9,610.4 327.4,610.3 327.9,610.2 328.4,610.1 328.9,610 329.4,610 329.9,609.9 330.4,609.9 330.9,609.8 331.4,609.8 331.9,609.8 332.4,609.8 332.9,609.9 333.4,609.9 333.9,610 334.4,610 334.9,610.1 335.4,610.2 335.9,610.3 336.4,610.4 336.9,610.5 337.4,610.6 337.9,610.8 338.4,610.9 338.9,611.1 339.4,611.3 339.9,611.5 340.4,611.7 340.9,611.9 341.4,612.1 341.9,612.3 342.4,612.5 342.9,612.8 343.4,613.1 343.9,613.3 344.4,613.6 344.9,613.9 345.4,614.1 345.9,614.4 346.4,614.7 346.9,615 347.4,615.2 347.9,615.5 348.4,615.8 348.9,616 349.4,616.2 349.9,616.5 350.4,616.7 350.9,616.9 351.4,617.1 351.9,617.4 352.4,617.6 352.9,617.9 353.4,618.1 353.9,618.4 354.4,618.6 354.9,618.8 355.4,619 355.9,619.2 356.4,619.3 356.9,619.4 357.4,619.5 357.9,619.5 358.4,619.5 358.9,619.4 359.4,619.3 359.9,619.2 360.4,619.1 360.9,618.9 361.4,618.7 361.9,618.5 362.4,618.2 362.9,618 363.4,617.8 363.9,617.5 364.4,617.3 364.9,617.1 365.4,616.8 365.9,616.5 366.4,616.1 366.9,615.8 367.4,615.4 367.9,615 368.4,614.5 368.9,614.1 369.4,613.5 369.9,612.9 370.4,612.2 370.9,611.3 371.4,610.2 371.9,609 372.4,607.7 372.9,606.3 373.4,604.9 373.9,603.3 374.4,601.7 374.9,600 375.4,598.3 375.9,596.6 376.4,594.9 376.9,593.2 377.4,591.5 377.9,589.8 378.4,588.2 378.9,586.7 379.4,585.2 379.9,583.8 380.4,582.4 380.9,580.9 381.4,579.5 381.9,578.1 382.4,576.6 382.9,575.2 383.4,573.8 383.9,572.4 384.4,570.9 384.9,569.5 385.4,568.1 385.9,566.6 386.4,565.2 386.9,563.8 387.4,562.3 387.9,560.9 388.4,559.4 388.9,558 389.4,556.5 389.9,555.1 390.4,553.7 390.9,552.2 391.4,550.8 391.9,549.4 392.4,548 392.9,546.5 393.4,545.1 393.9,543.7 394.4,542.2 394.9,540.8 395.4,539.3 395.9,537.8 396.4,536.4 396.9,534.9 397.4,533.3 397.9,531.8 398.4,530.3 398.9,528.7 399.4,527.1 399.9,525.4 400.4,523.7 400.9,521.9 401.4,520.2 401.9,518.4 402.4,516.6 402.9,514.9 403.4,513.1 403.9,511.4 404.4,509.7 404.9,508.1 405.4,506.6 405.9,505.1 406.4,503.6 406.9,502.2 407.4,500.8 407.9,499.4 408.4,498.1 408.9,496.9 409.4,495.7 409.9,494.6 410.4,493.5 410.9,492.4 411.4,491.4 411.9,490.4 412.4,489.6 412.9,488.9 413.4,488.4 413.9,487.8 414.4,487.3 414.9,486.8 415.4,486.4 415.9,486.2 416.4,486 416.9,486 417.4,486.2 417.9,486.5 418.4,486.9 418.9,487.3 419.4,487.8 419.9,488.4 420.4,489 420.9,490 421.4,491.1 421.9,492.4 422.4,493.8 422.9,495.2 423.4,496.7 423.9,498.5 424.4,500.4 424.9,502.4 425.4,504.4 425.9,506.3 426.4,508.1 426.9,509.8 427.4,511.4 427.9,513.1 428.4,514.7 428.9,516.3 429.4,517.9 429.9,519.6 430.4,521.3 430.9,523.2 431.4,525.2 431.9,527.3 432.4,529.5 432.9,532 433.4,534.9 433.9,538.1 434.4,541.6 434.9,545.1 435.4,548.8 435.9,552.4 436.4,555.8 436.9,559.2 437.4,562.5 437.9,565.7 438.4,569 438.9,572.3 439.4,575.6 439.9,579 440.4,582.5 440.9,586.1 441.4,589.8 441.9,593.6 442.4,597.5 442.9,601.5 443.4,605.7 443.9,610 444.4,614.4 444.9,619.1 445.4,623.9 445.9,629 446.4,634.2 446.9,639.6 447.3,644ZM612.5,644 612.6,643.6 612.8,643.2 612.9,642.8 613.1,642.4 613.2,642.1 613.4,641.7 613.5,641.4 613.7,641.1 613.8,640.9 614,640.6 614.1,640.4 614.2,640.2 614.4,640 614.5,639.8 614.7,639.6 614.8,639.5 615,639.4 615.1,639.3 615.3,639.2 615.4,639.1 615.6,639.1 615.7,639 615.9,639 616,639 616.1,639 616.3,639 616.4,639.1 616.6,639.1 616.7,639.2 616.9,639.3 617,639.4 617.2,639.5 617.3,639.6 617.5,639.8 617.6,640 617.8,640.2 617.9,640.4 618,640.6 618.2,640.9 618.3,641.1 618.5,641.4 618.6,641.7 618.8,642.1 618.9,642.4 619.1,642.8 619.2,643.2 619.4,643.6 619.5,644Z" fill="#aa5503" stroke="#aa5503" stroke-width="0.6" stroke-linejoin="round"/>
<path d="M217.9,674H832.9" stroke="#d16903" stroke-opacity="0.10" stroke-width="3.6" fill="none"/>
<path d="M217.9,674H832.9" stroke="#eab88a" stroke-width="1.2" stroke-dasharray="6 1.2" fill="none"/>
<path d="M326.8,674 327.3,672.7 327.8,671.3 328.3,670 328.8,668.8 329.3,667.5 329.8,666.3 330.3,665.1 330.8,664 331.3,662.8 331.8,661.8 332.3,660.7 332.8,659.7 333.3,658.7 333.8,657.7 334.3,656.8 334.8,656 335.3,655.1 335.8,654.2 336.3,653.4 336.8,652.6 337.3,651.8 337.8,651 338.3,650.3 338.8,649.6 339.3,648.9 339.8,648.3 340.3,647.7 340.8,647.2 341.3,646.7 341.8,646.2 342.3,645.8 342.8,645.4 343.3,644.9 343.8,644.5 344.3,644.1 344.8,643.8 345.3,643.4 345.8,643.1 346.3,642.8 346.8,642.5 347.3,642.2 347.8,642 348.3,641.9 348.8,641.7 349.3,641.6 349.8,641.6 350.3,641.5 350.8,641.4 351.3,641.3 351.8,641.3 352.3,641.2 352.8,641.1 353.3,641.1 353.8,641 354.3,641 354.8,640.9 355.3,640.9 355.8,640.9 356.3,640.8 356.8,640.8 357.3,640.8 357.8,640.8 358.3,640.8 358.8,640.8 359.3,640.8 359.8,640.8 360.3,640.8 360.8,640.8 361.3,640.8 361.8,640.9 362.3,640.9 362.8,640.9 363.3,640.9 363.8,640.9 364.3,640.9 364.8,640.9 365.3,641 365.8,641 366.3,641 366.8,641 367.3,641 367.8,641 368.3,641 368.8,641 369.3,641 369.8,640.9 370.3,640.9 370.8,640.8 371.3,640.7 371.8,640.6 372.3,640.5 372.8,640.4 373.3,640.3 373.8,640.1 374.3,640 374.8,639.9 375.3,639.7 375.8,639.6 376.3,639.4 376.8,639.2 377.3,639 377.8,638.8 378.3,638.6 378.8,638.4 379.3,638.1 379.8,637.8 380.3,637.6 380.8,637.3 381.3,636.9 381.8,636.6 382.3,636.3 382.8,635.9 383.3,635.5 383.8,635.2 384.3,634.8 384.8,634.3 385.3,633.9 385.8,633.4 386.3,632.8 386.8,632.2 387.3,631.6 387.8,631 388.3,630.4 388.8,629.7 389.3,629 389.8,628.2 390.3,627.5 390.8,626.7 391.3,626 391.8,625.2 392.3,624.4 392.8,623.6 393.3,622.7 393.8,621.9 394.3,621.1 394.8,620.3 395.3,619.4 395.8,618.6 396.3,617.8 396.8,617 397.3,616.1 397.8,615.3 398.3,614.5 398.8,613.7 399.3,612.8 399.8,611.9 400.3,610.9 400.8,610 401.3,609 401.8,608.1 402.3,607.1 402.8,606.1 403.3,605.2 403.8,604.2 404.3,603.3 404.8,602.4 405.3,601.5 405.8,600.6 406.3,599.7 406.8,598.9 407.3,598.1 407.8,597.4 408.3,596.7 408.8,596 409.3,595.3 409.8,594.7 410.3,594 410.8,593.4 411.3,592.8 411.8,592.2 412.3,591.7 412.8,591.1 413.3,590.5 413.8,590 414.3,589.4 414.8,588.9 415.3,588.5 415.8,588 416.3,587.6 416.8,587.3 417.3,587 417.8,586.8 418.3,586.5 418.8,586.3 419.3,586.1 419.8,585.9 420.3,585.7 420.8,585.5 421.3,585.5 421.8,585.4 422.3,585.4 422.8,585.5 423.3,585.6 423.8,585.7 424.3,585.9 424.8,586.2 425.3,586.4 425.8,586.7 426.3,587 426.8,587.4 427.3,587.7 427.8,588.2 428.3,588.9 428.8,589.6 429.3,590.5 429.8,591.4 430.3,592.4 430.8,593.5 431.3,594.7 431.8,595.8 432.3,597 432.8,598.2 433.3,599.5 433.8,601 434.3,602.5 434.8,604.1 435.3,605.8 435.8,607.6 436.3,609.5 436.8,611.4 437.3,613.4 437.8,615.5 438.3,617.6 438.8,619.7 439.3,621.8 439.8,624 440.3,626.1 440.8,628.3 441.3,630.6 441.8,633 442.3,635.5 442.8,638 443.3,640.6 443.8,643.2 444.3,645.9 444.8,648.5 445.3,651.1 445.8,653.7 446.3,656.3 446.8,658.8 447.3,661.4 447.8,663.9 448.3,666.4 448.8,668.9 449.3,671.5 449.8,674ZM581.5,674 581.8,673.9 582,673.7 582.2,673.6 582.5,673.5 582.8,673.4 583,673.3 583.2,673.2 583.5,673.1 583.8,673 584,672.9 584.2,672.9 584.5,672.8 584.8,672.7 585,672.7 585.2,672.6 585.5,672.6 585.8,672.5 586,672.5 586.2,672.5 586.5,672.4 586.8,672.4 587,672.4 587.2,672.4 587.5,672.4 587.8,672.4 588,672.4 588.2,672.4 588.5,672.4 588.8,672.5 589,672.5 589.2,672.5 589.5,672.6 589.8,672.6 590,672.7 590.2,672.7 590.5,672.8 590.8,672.9 591,672.9 591.2,673 591.5,673.1 591.8,673.2 592,673.3 592.2,673.4 592.5,673.5 592.8,673.6 593,673.7 593.2,673.9 593.5,674Z" fill="#d16903" stroke="#d16903" stroke-width="0.6" stroke-linejoin="round"/>
<path d="M38.0,401.0L222.0,682.5" stroke="#111" stroke-width="2.6" stroke-linecap="square" fill="none"/>
<path d="M39.6,404.2h10M57.3,431.2h4.5M75,458.3h10M92.8,485.3h4.5M110.5,512.4h10M128.2,539.4h4.5M145.9,566.4h10M163.7,593.5h4.5M181.4,620.5h10M199.1,647.6h4.5M216.8,674.6h7.5" stroke="#111" stroke-width="2" fill="none"/>
<path d="M221.0,682.5H839.5" stroke="#111" stroke-width="2.6" fill="none"/>
<path d="M838.5,281.5V683.5" stroke="#111" stroke-width="2.4" fill="none"/>
<path d="M222,682.5v-8.5M268.4,682.5v-4.5M295.5,682.5v-4.5M314.8,682.5v-4.5M329.7,682.5v-4.5M341.9,682.5v-4.5M352.3,682.5v-4.5M361.2,682.5v-4.5M369.1,682.5v-4.5M376.1,682.5v-8.5M422.5,682.5v-4.5M449.7,682.5v-4.5M468.9,682.5v-4.5M483.9,682.5v-4.5M496.1,682.5v-4.5M506.4,682.5v-4.5M515.3,682.5v-4.5M523.2,682.5v-4.5M530.2,682.5v-8.5M576.6,682.5v-4.5M603.8,682.5v-4.5M623,682.5v-4.5M638,682.5v-4.5M650.2,682.5v-4.5M660.5,682.5v-4.5M669.4,682.5v-4.5M677.3,682.5v-4.5M684.4,682.5v-8.5M730.8,682.5v-4.5M757.9,682.5v-4.5M777.2,682.5v-4.5M792.1,682.5v-4.5M804.3,682.5v-4.5M814.6,682.5v-4.5M823.6,682.5v-4.5M831.4,682.5v-4.5M838.5,682.5v-8.5" stroke="#111" stroke-width="2.2" fill="none"/>
<polygon points="304.45,74.5 315.95,74.5 315.95,95 321.7,95 310.2,108 298.7,95 304.45,95" fill="#0a0a0a"/>
<polygon points="201.05,345 212.55,345 212.55,365 218.3,365 206.8,378 195.3,365 201.05,365" fill="#0a0a0a"/>
<text x="302.8" y="55.5" font-size="24.4" text-anchor="middle">Gel pore water</text>
<text x="188.4" y="327.5" font-size="24.4" text-anchor="middle">Interlayer water</text>
<text x="57.8" y="557" font-size="23.4" text-anchor="middle">RH</text>
<text x="531" y="763.5" font-size="24.7" text-anchor="middle">Relaxation time T<tspan font-size="16" dy="5.5">2</tspan><tspan dy="-5.5">(ms)</tspan></text>
<text transform="translate(877,483) rotate(-90)" font-size="24.7" text-anchor="middle">Signal intensity per gram residue of ignition</text>
<text x="34.2" y="410" font-size="23" text-anchor="end">100</text>
<text x="65.2" y="463" font-size="23" text-anchor="end">80</text>
<text x="104.4" y="519.5" font-size="23" text-anchor="end">60</text>
<text x="138.5" y="573.7" font-size="23" text-anchor="end">40</text>
<text x="178.7" y="631.3" font-size="23" text-anchor="end">20</text>
<text x="206.3" y="682" font-size="23" text-anchor="end">0</text>
<text x="222" y="716.6" font-size="24.6" text-anchor="middle">0.01</text>
<text x="376.5" y="716.6" font-size="24.6" text-anchor="middle">0.1</text>
<text x="530.5" y="716.6" font-size="24.6" text-anchor="middle">1</text>
<text x="684.5" y="716.6" font-size="24.6" text-anchor="middle">10</text>
<text x="838.6" y="716.6" font-size="24.6" text-anchor="middle">100</text>
</svg></body></html>
